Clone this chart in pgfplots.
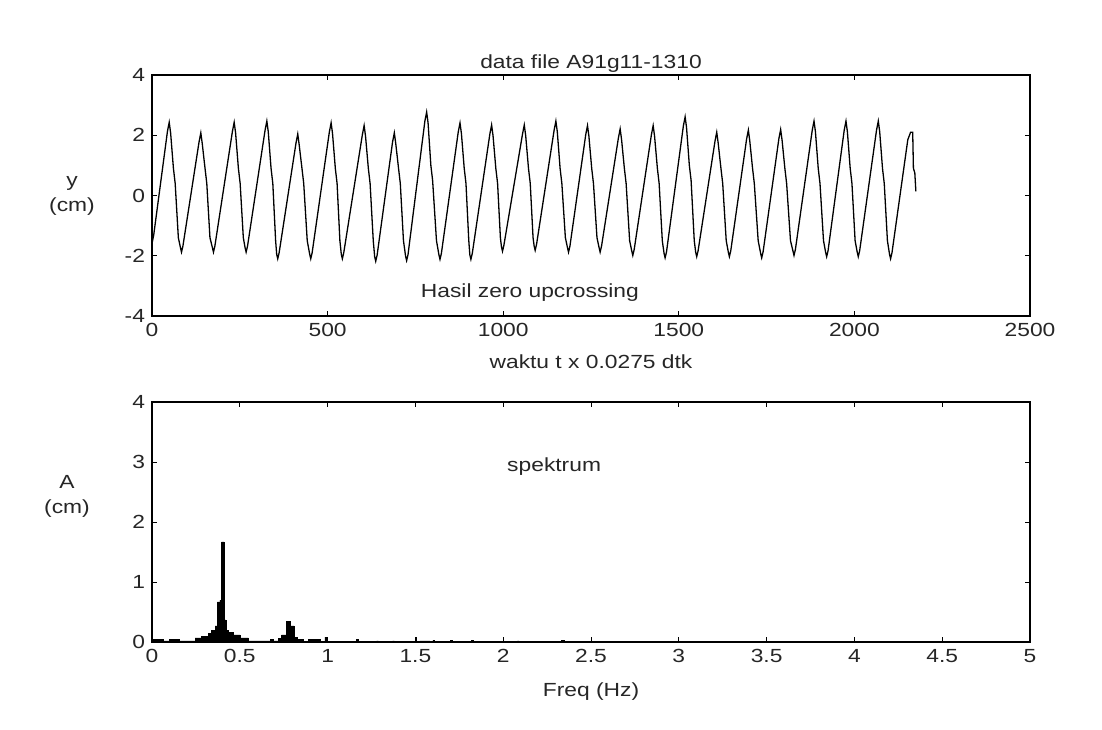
\documentclass[border=0pt]{standalone}
\usepackage{fontspec}
\setmainfont{Liberation Sans}[FakeStretch=1.2]
\usepackage{pgfplots}
\pgfplotsset{compat=1.18}
\begin{document}
\begin{tikzpicture}
\useasboundingbox (0pt,0pt) rectangle (551pt,364.5pt);
\pgfplotsset{
  myax/.style={scale only axis, width=439pt, height=120.5pt,
    axis line style={line width=0.6pt, black},
    tick align=inside, xtick pos=both, ytick pos=both,
    major tick length=2.5pt, tick style={line width=0.5pt, black},
    ticklabel style={font=\fontsize{9.5}{11}\selectfont, text=black!85},
    every axis title/.style={at={(0.5,1)}, anchor=base, yshift=3.5pt, font=\fontsize{9.5}{11}\selectfont, text=black!85},
    every axis x label/.style={at={(0.5,0)}, anchor=base, font=\fontsize{9.5}{11}\selectfont, text=black!85},
    clip=false}
}
\begin{axis}[myax, at={(76pt,206.5pt)}, anchor=south west,
  xmin=0, xmax=2500, ymin=-4, ymax=4,
  xtick={0,500,1000,1500,2000,2500}, xticklabels={0,500,1000,1500,2000,2500},
  ytick={-4,-2,0,2,4}, yticklabels={-4,-2,0,2,4},
  title={data file A91g11-1310},
  xlabel={waktu t x 0.0275 dtk},
  xlabel style={yshift=-26.5pt}]
\addplot[black, line width=0.65pt] coordinates {
(0,-1.6) (5,-1.3) (44,2.13) (49,2.43)
(53,2.08) (61,0.9) (66,0.4) (75,-1.4) (81,-1.73) (84,-1.88)
(88,-1.68) (134,1.78) (139,2.08)
(143,1.73) (151,0.9) (156,0.4) (165,-1.4) (172,-1.73) (175,-1.88)
(179,-1.68) (229,2.13) (234,2.43)
(238,2.08) (246,0.9) (251,0.4) (260,-1.4) (265,-1.73) (268,-1.88)
(272,-1.68) (322,2.17) (327,2.47)
(331,2.12) (339,0.9) (344,0.4) (352,-1.5) (355,-1.95) (358,-2.10)
(362,-1.9) (410,1.74) (415,2.04)
(419,1.69) (427,0.9) (432,0.4) (442,-1.5) (449,-1.95) (452,-2.10)
(456,-1.9) (505,2.11) (510,2.41)
(514,2.06) (522,0.9) (527,0.4) (535,-1.5) (539,-1.95) (542,-2.10)
(546,-1.9) (599,2.02) (604,2.32)
(608,1.97) (616,0.9) (621,0.4) (630,-1.5) (634,-2.03) (637,-2.18)
(641,-1.98) (685,1.78) (690,2.08)
(694,1.73) (702,0.9) (707,0.4) (716,-1.5) (722,-2.01) (725,-2.16)
(729,-1.96) (777,2.47) (782,2.77)
(786,2.42) (794,1.0) (799,0.5) (810,-1.5) (817,-1.97) (820,-2.12)
(824,-1.92) (872,2.11) (877,2.41)
(881,2.06) (889,0.9) (894,0.4) (902,-1.5) (905,-1.97) (908,-2.12)
(912,-1.92) (962,2.04) (967,2.34)
(971,1.99) (979,0.9) (984,0.4) (992,-1.4) (995,-1.7) (998,-1.85)
(1002,-1.65) (1055,2.04) (1060,2.34)
(1064,1.99) (1072,0.9) (1077,0.4) (1085,-1.4) (1088,-1.67) (1091,-1.82)
(1095,-1.62) (1145,2.17) (1150,2.47)
(1154,2.12) (1162,0.9) (1167,0.4) (1177,-1.4) (1183,-1.73) (1186,-1.88)
(1190,-1.68) (1235,2.02) (1240,2.32)
(1244,1.97) (1252,0.9) (1257,0.4) (1267,-1.4) (1273,-1.73) (1276,-1.88)
(1280,-1.68) (1328,1.91) (1333,2.21)
(1337,1.86) (1345,0.9) (1350,0.4) (1360,-1.5) (1366,-1.84) (1369,-1.99)
(1373,-1.79) (1422,2.02) (1427,2.32)
(1431,1.97) (1439,0.9) (1444,0.4) (1453,-1.5) (1458,-1.92) (1461,-2.07)
(1465,-1.87) (1513,2.31) (1518,2.61)
(1522,2.26) (1530,1.0) (1535,0.5) (1544,-1.5) (1548,-1.88) (1551,-2.03)
(1555,-1.83) (1603,1.80) (1608,2.10)
(1612,1.75) (1620,0.9) (1625,0.4) (1635,-1.5) (1641,-1.88) (1644,-2.03)
(1648,-1.83) (1693,1.87) (1698,2.17)
(1702,1.82) (1710,0.9) (1715,0.4) (1726,-1.5) (1733,-1.92) (1736,-2.07)
(1740,-1.87) (1785,1.89) (1790,2.19)
(1794,1.84) (1802,0.9) (1807,0.4) (1818,-1.5) (1825,-1.84) (1828,-1.99)
(1832,-1.79) (1880,2.17) (1885,2.47)
(1889,2.12) (1897,0.9) (1902,0.4) (1912,-1.5) (1918,-1.88) (1921,-2.03)
(1925,-1.83) (1971,2.17) (1976,2.47)
(1980,2.12) (1988,0.9) (1993,0.4) (2002,-1.5) (2008,-1.88) (2011,-2.03)
(2015,-1.83) (2063,2.17) (2068,2.47)
(2072,2.12) (2080,0.9) (2085,0.4) (2094,-1.5) (2100,-1.95) (2103,-2.10)
(2107,-1.9) (2152,1.85) (2160,2.10)
(2166,2.10) (2168,0.9) (2172,0.75) (2175,0.14)
};
\node[font=\fontsize{9.5}{11}\selectfont, text=black!85] at (axis cs:1076,-3.22) {Hasil zero upcrossing};
\end{axis}
\begin{axis}[myax, at={(76pt,43.5pt)}, anchor=south west, height=120pt,
  xmin=0, xmax=5, ymin=0, ymax=4,
  xtick={0,0.5,1,1.5,2,2.5,3,3.5,4,4.5,5},
  xticklabels={0,0.5,1,1.5,2,2.5,3,3.5,4,4.5,5},
  ytick={0,1,2,3,4}, yticklabels={0,1,2,3,4},
  xlabel={Freq (Hz)},
  xlabel style={yshift=-27pt}]
\addplot[const plot, fill=black, draw=black, line width=0.3pt] coordinates {
(0,0.04) (0.065,0.02) (0.099,0.05) (0.156,0.02) (0.245,0.07) (0.283,0.10)
(0.321,0.14) (0.34,0.19) (0.359,0.27) (0.372,0.67) (0.387,0.70) (0.397,1.67)
(0.41,0.37) (0.421,0.20) (0.435,0.16) (0.463,0.12) (0.501,0.07) (0.549,0.02)
(0.653,0.02) (0.672,0.04) (0.691,0.02) (0.719,0.06) (0.738,0.12) (0.767,0.34)
(0.786,0.27) (0.809,0.08) (0.828,0.04) (0.862,0.01) (0.89,0.04) (0.957,0.01)
(0.985,0.08) (0.995,0.01) (1.165,0.04) (1.175,0.01) (1.279,0.02) (1.289,0.005)
(1.37,0.02) (1.38,0.005) (1.498,0.08) (1.507,0.01) (1.526,0.02) (1.583,0.005)
(1.6,0.03) (1.61,0.005) (1.70,0.03) (1.71,0.005) (1.82,0.03) (1.83,0.005)
(2.08,0.02) (2.09,0.005) (2.33,0.03) (2.35,0.005) (5,0)
} \closedcycle;
\node[font=\fontsize{9.5}{11}\selectfont, text=black!85] at (axis cs:2.29,2.92) {spektrum};
\end{axis}
\node[align=center, font=\fontsize{9.5}{12.5}\selectfont, text=black!85] at (36pt,266.75pt) {y\\(cm)};
\node[align=center, font=\fontsize{9.5}{12.5}\selectfont, text=black!85] at (33.5pt,116.25pt) {A\\(cm)};
\end{tikzpicture}
\end{document}
